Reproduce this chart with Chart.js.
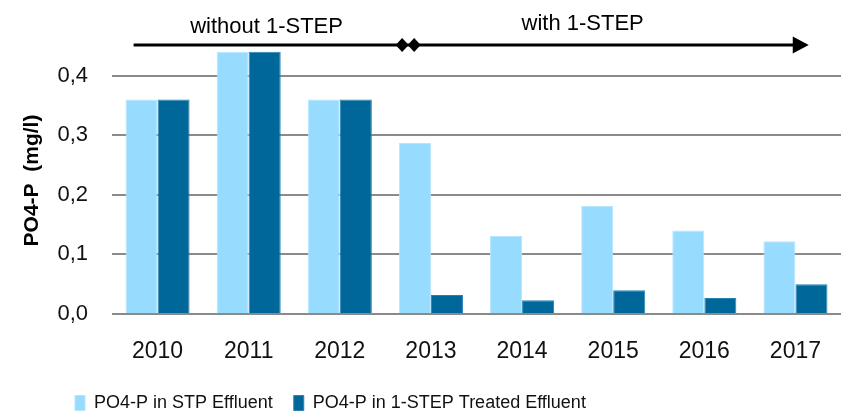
<!DOCTYPE html>
<html>
<head>
<meta charset="utf-8">
<script src="https://cdn.jsdelivr.net/npm/chart.js@4"></script>
<style>
  html, body { margin: 0; padding: 0; background: #fff; }
  #wrap { width: 847px; height: 412px; }
</style>
</head>
<body>
<div id="wrap"><canvas id="po4Chart"></canvas></div>
<script>
// values
const years = ['2010', '2011', '2012', '2013', '2014', '2015', '2016', '2017'];
const stpEffluent = [0.36, 0.44, 0.36, 0.287, 0.131, 0.181, 0.14, 0.122];
const treatedEffluent = [0.36, 0.44, 0.36, 0.032, 0.023, 0.04, 0.027, 0.05];
const yTicks = [0, 0.1, 0.2, 0.3, 0.4];
const seriesNames = ['PO4-P in STP Effluent', 'PO4-P in 1-STEP Treated Effluent'];

const FONT = "'Liberation Sans', Arial, sans-serif";

// arrow + phase labels above the bars, placed through the scales
const phasePlugin = {
  id: 'phases',
  afterDatasetsDraw(chart) {
    const { ctx, scales: { x, y } } = chart;
    ctx.save();
    ctx.fillStyle = '#000';
    ctx.strokeStyle = '#000';

    // arrow line
    const ay = y.getPixelForValue(0.4514);
    const x0 = x.getPixelForValue(-0.263);
    const x1 = x.getPixelForValue(7.146);
    ctx.lineWidth = 3;
    ctx.beginPath();
    ctx.moveTo(x0, ay);
    ctx.lineTo(x1 - 10, ay);
    ctx.stroke();
    // arrow head
    ctx.beginPath();
    ctx.moveTo(x1, ay);
    ctx.lineTo(x1 - 16, ay - 8.5);
    ctx.lineTo(x1 - 16, ay + 8.5);
    ctx.closePath();
    ctx.fill();

    // two diamonds marking the switch
    [2.684, 2.816].forEach(i => {
      const cx = x.getPixelForValue(i);
      ctx.beginPath();
      ctx.moveTo(cx - 6.5, ay);
      ctx.lineTo(cx, ay - 7);
      ctx.lineTo(cx + 6.5, ay);
      ctx.lineTo(cx, ay + 7);
      ctx.closePath();
      ctx.fill();
    });

    // phase texts
    ctx.font = '22px ' + FONT;
    ctx.textAlign = 'center';
    ctx.textBaseline = 'alphabetic';
    ctx.fillText('without 1-STEP', x.getPixelForValue(1.196), y.getPixelForValue(0.4716));
    ctx.fillText('with 1-STEP', x.getPixelForValue(4.665), y.getPixelForValue(0.4766));

    // y axis title
    ctx.font = 'bold 21px ' + FONT;
    ctx.translate(chart.chartArea.left - 80, y.getPixelForValue(0.224));
    ctx.rotate(-Math.PI / 2);
    ctx.textBaseline = 'middle';
    ctx.fillText('PO4-P  (mg/l)', 0, 0);
    ctx.restore();
  }
};

const chartData = {
  labels: years,
  datasets: [{
    label: seriesNames[0],
    data: stpEffluent,
    backgroundColor: '#97dbff',
    borderColor: '#b5e6ff',
    borderWidth: 1,
    categoryPercentage: 0.703,
    barPercentage: 1.0
  }, {
    label: seriesNames[1],
    data: treatedEffluent,
    backgroundColor: '#00679a',
    borderColor: '#2a82b3',
    borderWidth: 1,
    categoryPercentage: 0.703,
    barPercentage: 1.0
  }]
};

const chartConfig = {
  type: 'bar',
  data: chartData,
  plugins: [phasePlugin],
  options: {
    responsive: true,
    maintainAspectRatio: false,
    animation: false,
    layout: { padding: { top: 16, left: 54, right: 6, bottom: -10 } },
    plugins: {
      tooltip: { enabled: false },
      legend: {
        position: 'bottom',
        align: 'start',
        labels: {
          boxWidth: 10,
          boxHeight: 15,
          padding: 21,
          color: '#111',
          font: { family: FONT, size: 18 }
        }
      }
    },
    scales: {
      x: {
        grid: { display: false },
        border: { display: false },
        afterFit: scale => { scale.height = 59; },
        ticks: {
          color: '#111',
          padding: 16,
          font: { family: FONT, size: 23 }
        }
      },
      y: {
        min: 0,
        max: 0.5,
        afterBuildTicks: scale => { scale.ticks = yTicks.map(v => ({ value: v })); },
        afterFit: scale => {
          scale.width = 58;
          scale.paddingTop = 0;
          scale.paddingBottom = 0;
        },
        border: { display: false },
        grid: { color: '#8a8a8a', lineWidth: 2, drawTicks: false },
        ticks: {
          color: '#111',
          padding: 24,
          font: { family: FONT, size: 22 },
          callback: v => v.toFixed(1).replace('.', ',')
        }
      }
    }
  }
};

new Chart(document.getElementById('po4Chart').getContext('2d'), chartConfig);
</script>
</body>
</html>
